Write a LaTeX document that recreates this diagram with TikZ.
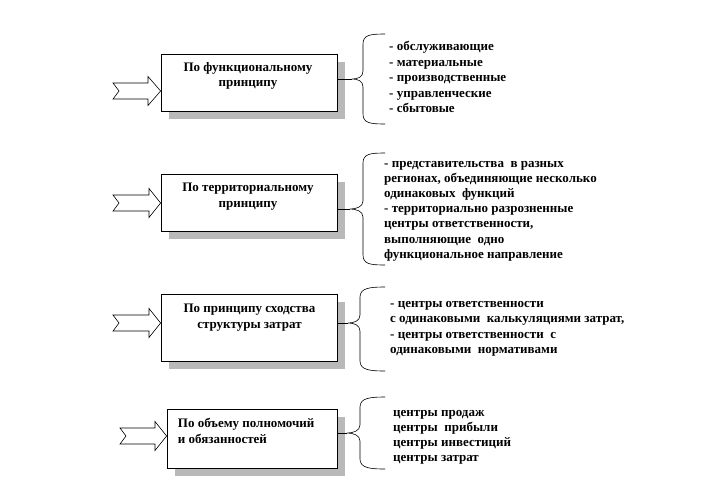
\documentclass[tikz,border=0pt]{standalone}
\usepackage{fontspec}
\setmainfont{Liberation Serif}
\usetikzlibrary{shadows}
\newcommand\fatarrow[4]{\draw[arr] (#1,#4-8) -- (#2,#4-8) -- (#2,#4-14.5) -- (#3,#4) -- (#2,#4+14.5) -- (#2,#4+8) -- (#1,#4+8) -- (#1+6,#4) -- cycle;}
\newcommand\bracket[6]{%
  \coordinate (#6) at (#5,#4);
  \draw[brace] (385,#2) .. controls (370,#2) and (#1,#2+1) .. (#1,#2+10) -- (#1,#4-8) .. controls (#1,#4-2) and (#5+6,#4) .. (#6) .. controls (#5+6,#4) and (#1,#4+2) .. (#1,#4+8) -- (#1,#3-10) .. controls (#1,#3-1) and (370,#3) .. (385,#3);}
\begin{document}
\begin{tikzpicture}[x=1pt,y=-1pt,
  box/.style={draw=black, line width=0.8pt, fill=white, inner sep=0pt,
    drop shadow={shadow xshift=8pt, shadow yshift=-8pt, fill=gray!55, opacity=1, draw=none}},
  arr/.style={draw=black, line width=0.6pt, fill=white, line join=miter},
  brace/.style={draw=black, line width=0.6pt},
  txt/.style={font=\fontsize{13}{15}\selectfont\bfseries, inner sep=0pt, anchor=base west},
  ctr/.style={font=\fontsize{13}{15}\selectfont\bfseries, inner sep=0pt, anchor=base}]
\useasboundingbox (0,0) rectangle (708,492);
% boxes
\node[box, minimum width=176pt, minimum height=57pt] (b1) at (249,82.5) {};
\node[box, minimum width=176pt, minimum height=57pt] (b2) at (249,202.5) {};
\node[box, minimum width=176pt, minimum height=67pt] (b3) at (249,327.5) {};
\node[box, minimum width=170pt, minimum height=59pt] (b4) at (252,438.5) {};
% box texts
\node[ctr] (b1a) at (248,71.5) {По функциональному};
\node[ctr] (b1b) at (248,87) {принципу};
\node[ctr] (b2a) at (248,191.5) {По территориальному};
\node[ctr] (b2b) at (248,207) {принципу};
\node[ctr] (b3a) at (249.5,312) {По принципу сходства};
\node[ctr] (b3b) at (249.5,328) {структуры затрат};
\node[txt] (b4a) at (177.7,427) {По объему полномочий};
\node[txt] (b4b) at (177.7,443) {и обязанностей};
% input arrows
\fatarrow{113}{148}{160.6}{91}
\fatarrow{113}{149}{160.6}{203}
\fatarrow{113}{149}{160.6}{323}
\fatarrow{120}{155}{166.6}{436}
% braces
\bracket{363}{34}{124}{79}{352}{t1}
\bracket{363}{153}{265}{209}{350}{t2}
\bracket{360}{287}{371}{323}{348}{t3}
\bracket{360}{397}{469}{433}{347}{t4}
\draw[brace] (b1.east |- t1) -- (t1);
\draw[brace] (b2.east |- t2) -- (t2);
\draw[brace] (b3.east |- t3) -- (t3);
\draw[brace] (b4.east |- t4) -- (t4);
% lists
\foreach \t [count=\i from 0] in {{- обслуживающие},{- материальные},{- производственные},{- управленческие},{- сбытовые}}
  \node[txt] (l1-\i) at (389,51+15.5*\i) {\t};
\foreach \t [count=\i from 0] in {{- представительства~ в разных},{регионах, объединяющие несколько},{одинаковых~ функций},{- территориально разрозненные},{центры ответственности,},{выполняющие~ одно},{функциональное направление}}
  \node[txt] (l2-\i) at (384,167.5+15.1*\i) {\t};
\foreach \t [count=\i from 0] in {{- центры ответственности},{с одинаковыми~ калькуляциями затрат,},{- центры ответственности~ с},{одинаковыми~ нормативами}}
  \node[txt] (l3-\i) at (390,307.5+15.3*\i) {\t};
\foreach \t [count=\i from 0] in {{центры продаж},{центры~ прибыли},{центры инвестиций},{центры затрат}}
  \node[txt] (l4-\i) at (393,416+15*\i) {\t};
\end{tikzpicture}
\end{document}
